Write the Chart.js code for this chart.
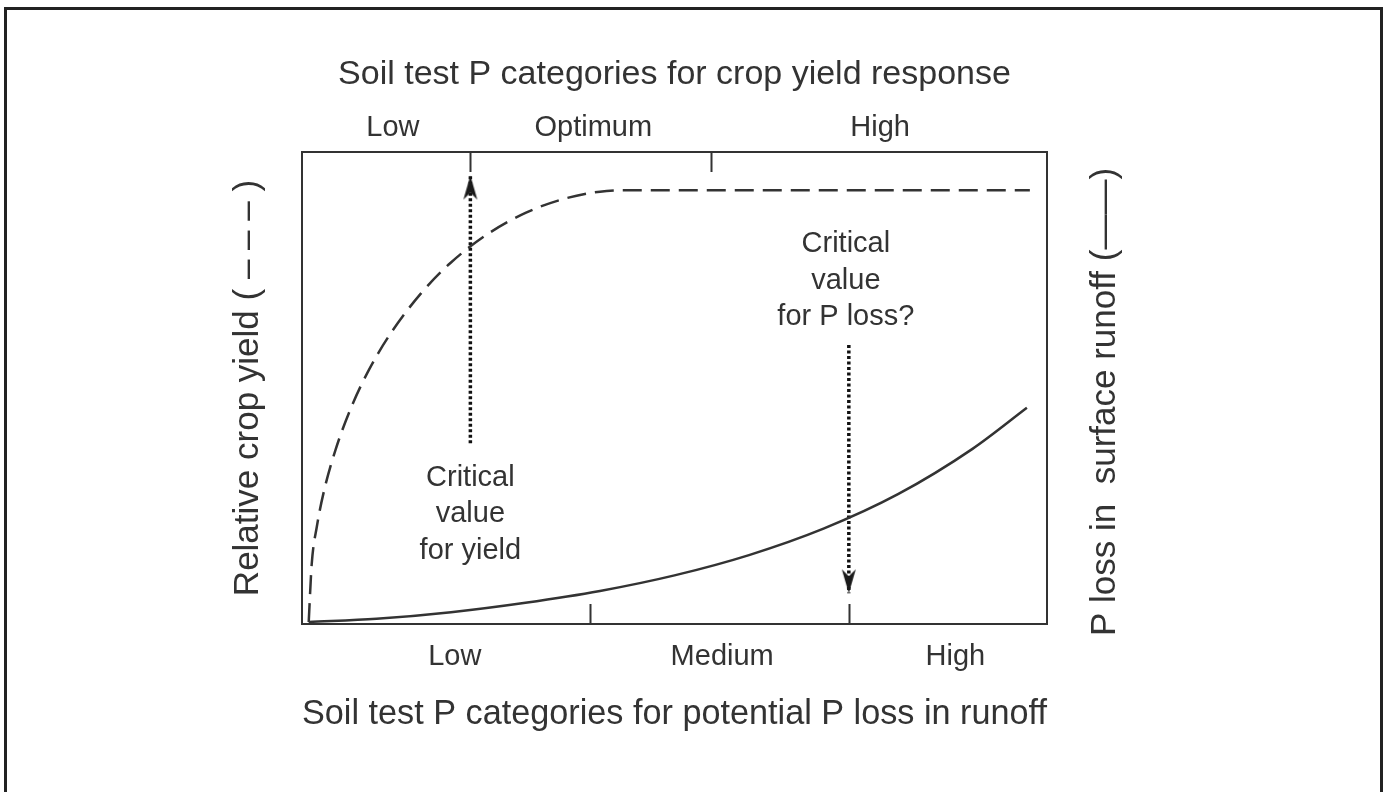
<!DOCTYPE html>
<html>
<head>
<meta charset="utf-8">
<script src="https://cdn.jsdelivr.net/npm/chart.js@4.4.1/dist/chart.umd.min.js"></script>
<style>
  html, body { margin: 0; padding: 0; background: #fff; }
</style>
</head>
<body>
<canvas id="myChart" width="1388" height="792"></canvas>
<script>
// soil test P runs 0..100 across the plot box, responses 0..100 up it
const yieldX = [0.9, 1.3, 2.0, 3.0, 4.5, 6.5, 9.0, 12.0, 16.0, 20.0, 25.0, 30.0, 35.0, 40.0, 43.6, 97.7];
const yieldY = [0.4, 12.6, 20.7, 28.5, 36.9, 45.5, 53.9, 61.8, 70.1, 76.6, 82.7, 87.1, 90.0, 91.6, 91.9, 91.9];

const runoffX = [0.9, 10, 20, 30, 40, 50, 60, 70, 80, 90, 97.3];
const runoffY = [0.4, 1.1, 2.5, 4.5, 7.0, 10.3, 14.6, 20.2, 27.5, 37.1, 45.8];

const cropCategories = ["Low", "Optimum", "High"];
const cropCategoryAt = [12.2, 39.1, 77.6];
const cropBounds = [22.6, 54.9];

const lossCategories = ["Low", "Medium", "High"];
const lossCategoryAt = [20.5, 56.4, 87.7];
const lossBounds = [38.7, 73.4];

const yieldArrowX = [22.6, 22.6];
const yieldArrowY = [38.3, 95.0];
const lossArrowX = [73.4, 73.4];
const lossArrowY = [59.1, 6.5];

const yieldNote = ["Critical", "value", "for yield"];
const lossNote = ["Critical", "value", "for P loss?"];

const ink = "#333";
const FONT = "'Liberation Sans', Arial, Helvetica, sans-serif";
Chart.defaults.font.family = FONT;
Chart.defaults.color = ink;

const pts = (xs, ys) => xs.map((x, i) => ({ x: x, y: ys[i] }));

// arrow head with its tip in the middle of the image
function arrowHead() {
  const c = document.createElement("canvas");
  c.width = 16;
  c.height = 52;
  const g = c.getContext("2d");
  g.fillStyle = "#1a1a1a";
  g.beginPath();
  g.moveTo(8, 26);
  g.lineTo(15, 50);
  g.lineTo(8, 43);
  g.lineTo(1, 50);
  g.closePath();
  g.fill();
  return c;
}
const head = arrowHead();

const decor = {
  id: "decor",
  beforeDraw(chart) {
    const ctx = chart.ctx;
    ctx.save();
    ctx.strokeStyle = "#222";
    ctx.lineWidth = 3;
    ctx.strokeRect(5.5, 8.5, 1376, 800);
    ctx.restore();
  },
  afterDraw(chart) {
    const { ctx, chartArea, scales } = chart;
    const x = scales.x, y = scales.y;
    ctx.save();
    ctx.strokeStyle = ink;
    ctx.lineWidth = 2;
    ctx.beginPath();
    cropBounds.forEach((v) => {
      const px = Math.round(x.getPixelForValue(v)) + 0.5;
      ctx.moveTo(px, chartArea.top);
      ctx.lineTo(px, chartArea.top + 20);
    });
    lossBounds.forEach((v) => {
      const px = Math.round(x.getPixelForValue(v)) + 0.5;
      ctx.moveTo(px, chartArea.bottom);
      ctx.lineTo(px, chartArea.bottom - 20);
    });
    ctx.stroke();

    ctx.fillStyle = ink;
    ctx.font = "29px " + FONT;
    ctx.textAlign = "center";
    ctx.textBaseline = "middle";
    const note = (lines, vx, vy) => {
      const px = x.getPixelForValue(vx);
      const py = y.getPixelForValue(vy);
      lines.forEach((t, i) => ctx.fillText(t, px, py + i * 36.5));
    };
    note(yieldNote, 22.6, 31.0);
    note(lossNote, 73.0, 80.5);

    // right axis title reads bottom to top
    ctx.font = "35px " + FONT;
    ctx.translate(1105, (chartArea.top + chartArea.bottom) / 2 + 14);
    ctx.rotate(-Math.PI / 2);
    ctx.fillText("P loss in  surface runoff (\u2014\u2014)", 0, 0);
    ctx.restore();
  }
};

const ctx = document.getElementById("myChart").getContext("2d");
const myChart = new Chart(ctx, {
  type: "line",
  data: {
    datasets: [
      {
        label: "Relative crop yield",
        data: pts(yieldX, yieldY),
        borderColor: ink,
        borderWidth: 2.5,
        borderDash: [19, 9],
        cubicInterpolationMode: "monotone",
        pointRadius: 0,
        fill: false,
      },
      {
        label: "P loss in surface runoff",
        data: pts(runoffX, runoffY),
        borderColor: ink,
        borderWidth: 2.5,
        cubicInterpolationMode: "monotone",
        pointRadius: 0,
        fill: false,
      },
      {
        label: "Critical value for yield",
        data: pts(yieldArrowX, yieldArrowY),
        borderColor: "#111",
        borderWidth: 3.5,
        borderDash: [3, 2.5],
        pointRadius: [0, 5],
        pointStyle: head,
        pointRotation: 0,
      },
      {
        label: "Critical value for P loss",
        data: pts(lossArrowX, lossArrowY),
        borderColor: "#111",
        borderWidth: 3.5,
        borderDash: [3, 2.5],
        pointRadius: [0, 5],
        pointStyle: head,
        pointRotation: 180,
      },
    ],
  },
  options: {
    responsive: false,
    animation: false,
    layout: { padding: 0 },
    plugins: {
      legend: { display: false },
      tooltip: { enabled: false },
    },
    scales: {
      x: {
        type: "linear",
        position: "bottom",
        min: 0,
        max: 100,
        afterBuildTicks: (s) => { s.ticks = lossCategoryAt.map((v) => ({ value: v })); },
        afterFit: (s) => { s.height = 168; },
        ticks: {
          autoSkip: false,
          maxRotation: 0,
          padding: 16,
          font: { size: 29 },
          callback: (v, i) => lossCategories[i],
        },
        grid: { display: false, drawTicks: false },
        border: { display: true, color: ink, width: 2 },
        title: {
          display: true,
          text: "Soil test P categories for potential P loss in runoff",
          font: { size: 35 },
          padding: { top: 0, bottom: 57 },
        },
      },
      x2: {
        type: "linear",
        position: "top",
        min: 0,
        max: 100,
        afterBuildTicks: (s) => { s.ticks = cropCategoryAt.map((v) => ({ value: v })); },
        afterFit: (s) => { s.height = 152; },
        ticks: {
          autoSkip: false,
          maxRotation: 0,
          padding: 7,
          font: { size: 29 },
          callback: (v, i) => cropCategories[i],
        },
        grid: { display: false, drawTicks: false },
        border: { display: true, color: ink, width: 2 },
        title: {
          display: true,
          text: "Soil test P categories for crop yield response",
          font: { size: 34 },
          padding: { top: 54, bottom: 0 },
        },
      },
      y: {
        type: "linear",
        position: "left",
        min: 0,
        max: 100,
        afterFit: (s) => { s.width = 302; },
        ticks: { display: false },
        grid: { display: false, drawTicks: false },
        border: { display: true, color: ink, width: 2 },
        title: {
          display: true,
          text: "Relative crop yield ( \u2013 \u2013 \u2013 )",
          font: { size: 35 },
          padding: { top: 227, bottom: 0 },
        },
      },
      y2: {
        type: "linear",
        position: "right",
        min: 0,
        max: 100,
        afterFit: (s) => { s.width = 341; },
        ticks: { display: false },
        grid: { display: false, drawTicks: false },
        border: { display: true, color: ink, width: 2 },
      },
    },
  },
  plugins: [decor],
});
</script>
</body>
</html>
